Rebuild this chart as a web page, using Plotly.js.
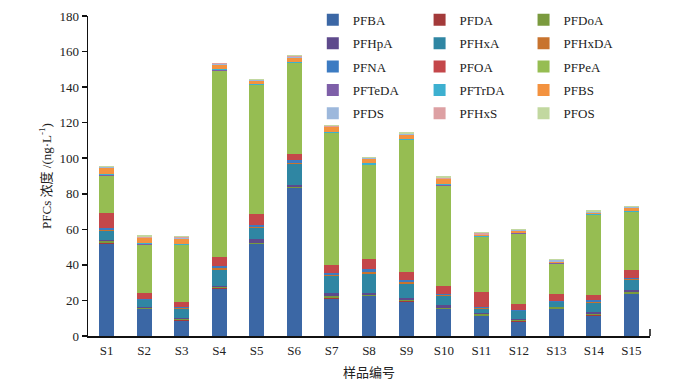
<!DOCTYPE html>
<html>
<head>
<meta charset="utf-8">
<script src="https://cdn.plot.ly/plotly-3.0.1.min.js"></script>
<style>html,body{margin:0;padding:0;background:#fff;}#chart{width:694px;height:388px;}</style>
</head>
<body>
<div id="chart"></div>
<script>
const samples = ["S1","S2","S3","S4","S5","S6","S7","S8","S9","S10","S11","S12","S13","S14","S15"];
const compounds = ["PFBA","PFDA","PFDoA","PFHpA","PFHxA","PFHxDA","PFNA","PFOA","PFPeA","PFTeDA","PFTrDA","PFBS","PFDS","PFHxS","PFOS"];
const colors = ["#3B67A5","#A33A3A","#7A9A3E","#5E4A8C","#2F86A3","#C8732E","#3C7BC2","#C4474A","#96BD52","#7E5FA8","#3DB0D0","#F3923F","#9DB8DC","#DDA0A3","#C2D8A0"];

const PFBA   = [52, 15, 8.5, 26.5, 51.5, 83, 21, 22.3, 19.3, 15, 11, 7.7, 15, 11.5, 23.5];
const PFDA   = [0.5, 0.3, 0.4, 0.3, 0.3, 0.3, 0.3, 0.3, 0.3, 0.3, 0.4, 0.5, 0.3, 0.3, 0.3];
const PFDoA  = [0.8, 0.6, 0.8, 0.5, 0.5, 0.3, 1.0, 0.5, 0.6, 0.6, 0.8, 0.6, 0.8, 0.3, 1.0];
const PFHpA  = [0.7, 0.6, 0.6, 1.0, 2.0, 1.2, 1.8, 1.0, 1.2, 1.4, 0.5, 0.6, 0.4, 1.2, 1.2];
const PFHxA  = [5, 3.5, 5, 9, 6.5, 12, 9.5, 11, 8, 5, 2.5, 4.5, 2.5, 5.5, 5.5];
const PFHxDA = [0.8, 0.3, 0.4, 0.8, 0.6, 0.5, 0.7, 0.8, 0.8, 0.5, 0.3, 0.4, 0.3, 0.6, 0.4];
const PFNA   = [1.2, 0.5, 0.8, 1.2, 1.2, 1.5, 1.2, 1.7, 1.3, 0.8, 0.7, 0.5, 0.5, 0.6, 0.5];
const PFOA   = [8, 3.5, 2.6, 5, 6, 3.5, 4.5, 5.6, 4.5, 4.5, 8.8, 3, 3.8, 3.2, 4.9];
const PFPeA  = [21, 27, 32, 105, 72.5, 51, 74, 52.8, 74, 56.5, 30.5, 39.6, 17, 44.8, 32.5];
const PFTeDA = [0.3, 0.3, 0.3, 0.3, 0.3, 0.3, 0.3, 0.3, 0.3, 0.3, 0.3, 0.3, 0.2, 0.3, 0.2];
const PFTrDA = [0.8, 0.6, 0.6, 0.6, 0.6, 0.5, 0.6, 1.0, 0.5, 0.5, 0.5, 0.5, 0.5, 0.5, 0.4];
const PFBS   = [3.5, 2.8, 2.8, 2.5, 1.5, 2.5, 2.5, 2.0, 2.3, 2.8, 0.4, 1.0, 0.6, 0.6, 1.8];
const PFDS   = [0.3, 0.4, 0.4, 0.3, 0.3, 0.4, 0.4, 0.6, 0.3, 0.3, 0.3, 0.3, 0.6, 0.3, 0.3];
const PFHxS  = [0.3, 0.4, 0.4, 0.3, 0.3, 0.4, 0.4, 0.3, 0.3, 0.3, 1.2, 0.3, 0.3, 0.3, 0.2];
const PFOS   = [0.5, 0.8, 0.6, 0.5, 0.5, 0.6, 0.3, 0.3, 0.8, 1.0, 0.5, 0.3, 0.3, 0.6, 0.3];

const seriesValues = [PFBA, PFDA, PFDoA, PFHpA, PFHxA, PFHxDA, PFNA, PFOA, PFPeA, PFTeDA, PFTrDA, PFBS, PFDS, PFHxS, PFOS];
const legendIds = ["legend", "legend2", "legend3"];

const FONT = "'Liberation Serif', 'Times New Roman', 'Noto Sans CJK SC', serif";

const traces = compounds.map((name, i) => ({
  type: "bar",
  name: name,
  x: samples,
  y: seriesValues[i],
  marker: {color: colors[i], line: {width: 0}},
  legend: legendIds[i % 3],
  legendgroup: name,
  legendrank: Math.floor(i / 3) + 1,
  hoverinfo: "x+y+name"
}));

function legendCfg(x) {
  return {
    x: x, xref: "paper", xanchor: "left",
    y: 1.035, yref: "paper", yanchor: "top",
    bgcolor: "rgba(0,0,0,0)",
    borderwidth: 0,
    font: {family: FONT, size: 13, color: "#222"},
    traceorder: "grouped",
    tracegroupgap: 3.5,
    itemwidth: 30
  };
}

const layout = {
  width: 694,
  height: 388,
  margin: {l: 88, r: 44, t: 16, b: 52, autoexpand: false},
  paper_bgcolor: "#ffffff",
  plot_bgcolor: "#ffffff",
  barmode: "stack",
  bargap: 0.6,
  showlegend: true,
  font: {family: FONT, size: 13, color: "#222"},
  xaxis: {
    type: "category",
    showline: true, linecolor: "#111", linewidth: 1.5,
    ticks: "", showgrid: false, zeroline: false,
    ticklabelstandoff: 2,
    tickfont: {family: FONT, size: 13, color: "#222"},
    title: {text: "样品编号", font: {family: FONT, size: 13, color: "#222"}, standoff: 11}
  },
  yaxis: {
    range: [0, 180], dtick: 20,
    showline: true, linecolor: "#111", linewidth: 1.5,
    ticks: "outside", ticklen: 5, tickwidth: 1.5, tickcolor: "#111",
    showgrid: false, zeroline: false,
    tickfont: {family: FONT, size: 13, color: "#222"},
    title: {text: "PFCs 浓度 /(ng·L<sup>-1</sup>)", font: {family: FONT, size: 13, color: "#222"}, standoff: 5}
  },
  legend: legendCfg(0.40),
  legend2: legendCfg(0.59),
  legend3: legendCfg(0.775),
  shapes: [{
    type: "line", xref: "paper", yref: "y",
    x0: 1, x1: 1, y0: 0, y1: 4,
    line: {color: "#111", width: 1.5}
  }]
};

Plotly.newPlot("chart", traces, layout, {displayModeBar: false, staticPlot: true});
</script>
</body>
</html>
